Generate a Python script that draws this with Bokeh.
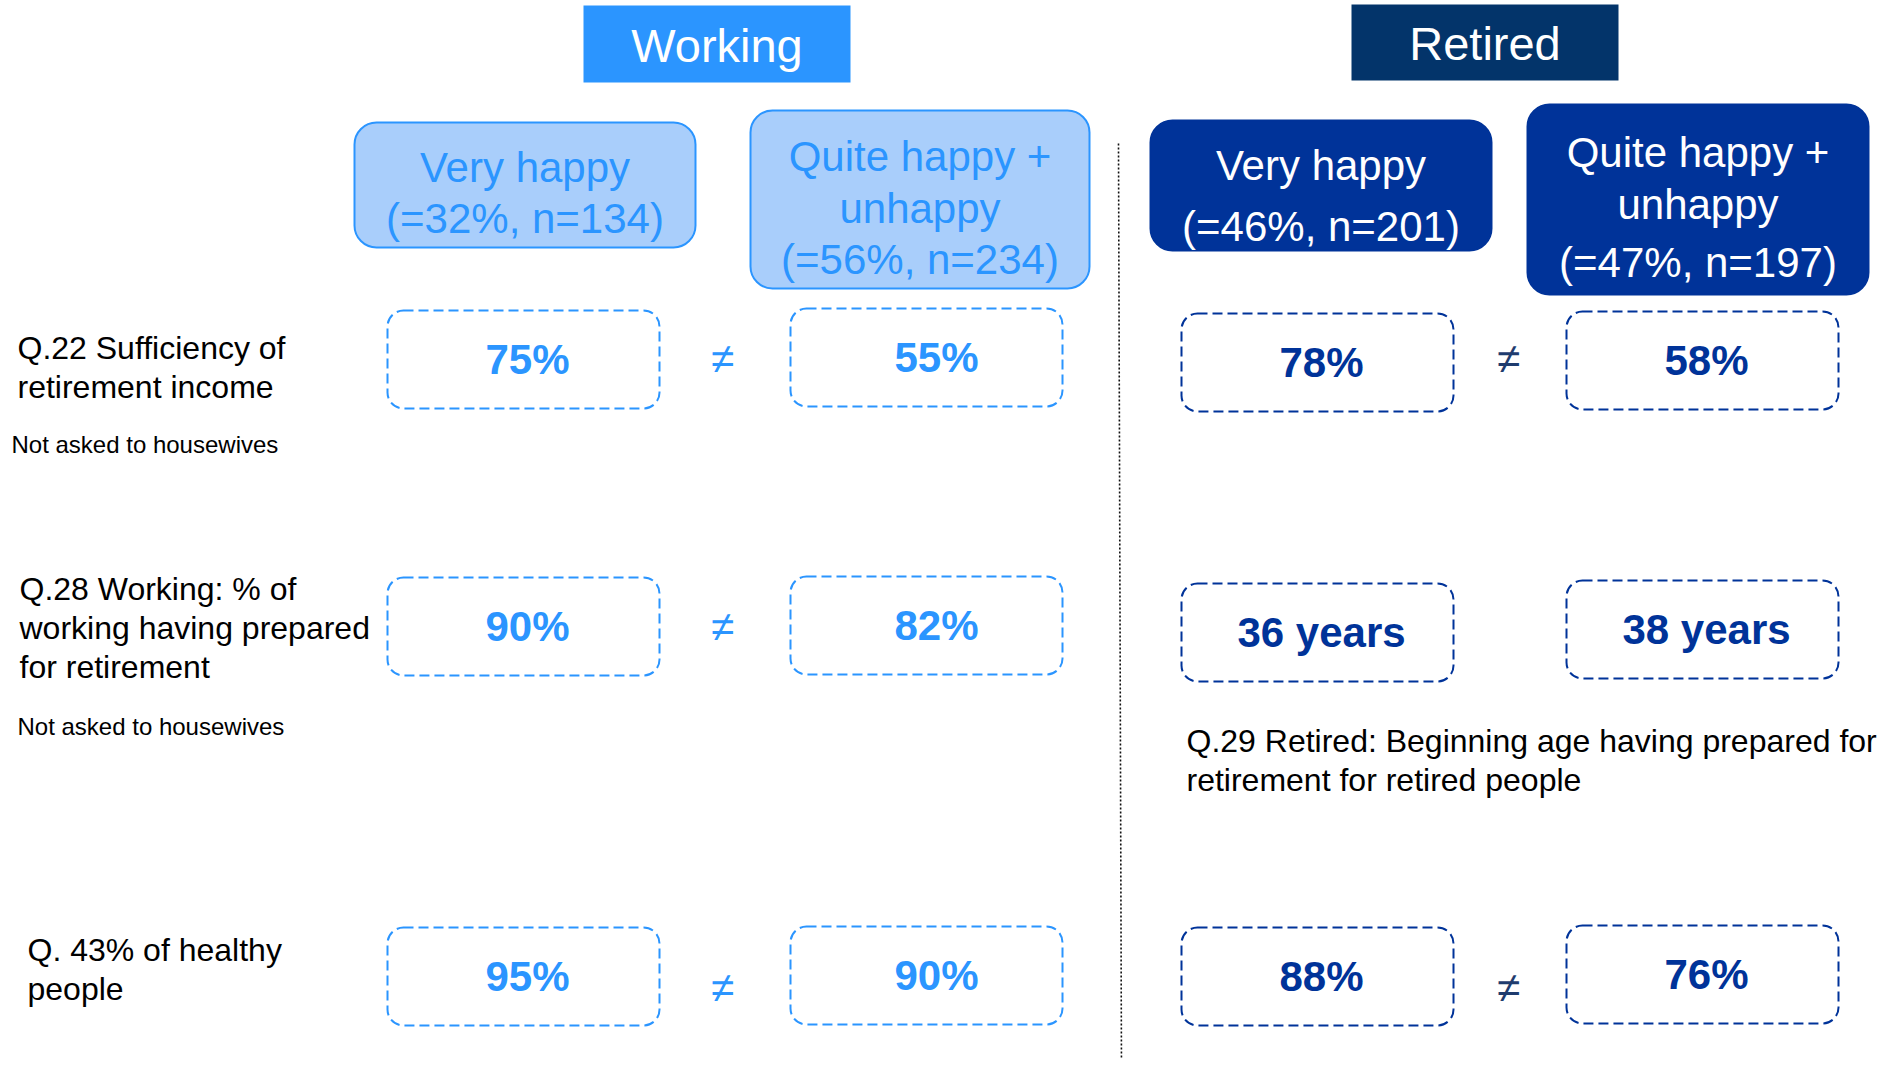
from bokeh.plotting import figure
from bokeh.models import Range1d
from bokeh.core.properties import value
from bokeh.embed import file_html
from bokeh.resources import INLINE

# ---------------- data ----------------
groups = ["Working", "Retired"]
segments = ["Very happy", "Quite happy + unhappy"]
segment_share = [32, 56, 46, 47]          # % of each group
segment_n = [134, 234, 201, 197]          # sample sizes

question_labels = [
    ["Q.22 Sufficiency of", "retirement income"],
    ["Q.28 Working: % of", "working having prepared", "for retirement"],
    ["Q. 43% of healthy", "people"],
]
notes = ["Not asked to housewives", "Not asked to housewives", ""]
retired_q29 = ["Q.29 Retired: Beginning age having prepared for",
               "retirement for retired people"]

working_values = [[75, 55], [90, 82], [95, 90]]     # %
retired_values = [[78, 58], [36, 38], [88, 76]]     # % / years (row 2)
retired_units = ["%", " years", "%"]
working_diff = [True, True, True]
retired_diff = [True, False, True]

# ---------------- style / layout ----------------
FONT = value("Liberation Sans")
C_WORK = "#2B95FF"
C_WORK_FILL = "#A9CEFB"
C_RET_HDR = "#03346A"
C_RET = "#003399"
C_NEQ_R = "#1F3C6E"

W, H = 1880, 1059
p = figure(width=W, height=H, output_backend="svg", toolbar_location=None,
           x_range=Range1d(0, W), y_range=Range1d(H, 0),
           min_border=0, tools="")
p.axis.visible = False
p.grid.visible = False
p.outline_line_color = None
p.background_fill_color = "white"
p.border_fill_color = "white"

# group title boxes
title_l = [583, 1351]
title_r = [850, 1618]
title_t = [5, 4]
title_b = [82, 80]
p.quad(left=title_l, right=title_r, top=title_t, bottom=title_b,
       fill_color=[C_WORK, C_RET_HDR], line_color=None)
p.text(x=[(a + b) / 2 for a, b in zip(title_l, title_r)],
       y=[(a + b) / 2 + 1 for a, b in zip(title_t, title_b)],
       text=groups, text_color="white", text_font=FONT,
       text_font_size="47px", text_align="center", text_baseline="middle")

# segment header boxes
hdr_l = [354, 750, 1150, 1527]
hdr_r = [695, 1089, 1491, 1868]
hdr_t = [122, 110, 120, 104]
hdr_b = [247, 288, 250, 294]
hdr_line_y = [[167, 218], [156, 208, 259], [165, 226], [152, 204, 262]]
hdr_fill = [C_WORK_FILL, C_WORK_FILL, C_RET, C_RET]
hdr_line = [C_WORK, C_WORK, C_RET, C_RET]
hdr_txt = [C_WORK, C_WORK, "white", "white"]
p.quad(left=hdr_l, right=hdr_r, top=hdr_t, bottom=hdr_b,
       fill_color=hdr_fill, line_color=hdr_line, line_width=2,
       border_radius=22)

hx, hy, ht, hc = [], [], [], []
for i in range(4):
    seg = segments[i % 2]
    if seg == "Very happy":
        lines = [seg]
    else:
        lines = ["Quite happy +", "unhappy"]
    lines = lines + [f"(={segment_share[i]}%, n={segment_n[i]})"]
    cx = (hdr_l[i] + hdr_r[i]) / 2
    for k, ln in enumerate(lines):
        hx.append(cx)
        hy.append(hdr_line_y[i][k])
        ht.append(ln)
        hc.append(hdr_txt[i])
p.text(x=hx, y=hy, text=ht, text_color=hc, text_font=FONT,
       text_font_size="42px", text_align="center", text_baseline="middle")

# vertical dotted separator
p.line(x=[1118, 1121], y=[143, 1075], line_color="#111111", line_width=1.6,
       line_dash="2 2")

# dashed value boxes
col_l = [387, 790, 1181, 1566]
col_dx = [4, 10, 4, 4]
col_w = 272
row_tops = [[310, 308, 313, 311], [577, 576, 583, 580], [927, 926, 927, 925]]
box_h = 98
bl, br, bt, bb, bc = [], [], [], [], []
vx, vy, vt, vc = [], [], [], []
for r in range(3):
    vals = [f"{working_values[r][0]}%", f"{working_values[r][1]}%",
            f"{retired_values[r][0]}{retired_units[r]}",
            f"{retired_values[r][1]}{retired_units[r]}"]
    for c in range(4):
        t = row_tops[r][c]
        bl.append(col_l[c]); br.append(col_l[c] + col_w)
        bt.append(t); bb.append(t + box_h)
        bc.append(C_WORK if c < 2 else C_RET)
        vx.append(col_l[c] + col_w / 2 + col_dx[c])
        vy.append(t + box_h / 2)
        vt.append(vals[c])
        vc.append(C_WORK if c < 2 else C_RET)
p.quad(left=bl, right=br, top=bt, bottom=bb, fill_color=None,
       line_color=bc, line_width=2, line_dash="10 5", border_radius=16)
p.text(x=vx, y=vy, text=vt, text_color=vc, text_font=FONT,
       text_font_size="42px", text_font_style="bold",
       text_align="center", text_baseline="middle")

# not-equal signs
neq_y = [358, 626, 987]
nx, ny, nc = [], [], []
for r in range(3):
    if working_diff[r]:
        nx.append(722); ny.append(neq_y[r]); nc.append(C_WORK)
    if retired_diff[r]:
        nx.append(1508); ny.append(neq_y[r]); nc.append(C_NEQ_R)
p.text(x=nx, y=ny, text=["\u2260"] * len(nx), text_color=nc, text_font=FONT,
       text_font_size="42px", text_align="center", text_baseline="middle")

# question labels
lab_x = [17, 19, 27]
lab_y0 = [347, 588, 949]
lx, ly, lt = [], [], []
for r in range(3):
    for k, ln in enumerate(question_labels[r]):
        lx.append(lab_x[r]); ly.append(lab_y0[r] + k * 39); lt.append(ln)
for k, ln in enumerate(retired_q29):
    lx.append(1186); ly.append(740 + k * 39); lt.append(ln)
p.text(x=lx, y=ly, text=lt, text_color="black", text_font=FONT,
       text_font_size="32px", text_align="left", text_baseline="middle")

note_x = [11, 17, 17]
note_y = [444, 726, 0]
nts = [(note_x[i], note_y[i], notes[i]) for i in range(3) if notes[i]]
p.text(x=[a for a, _, _ in nts], y=[b for _, b, _ in nts],
       text=[c for _, _, c in nts], text_color="black", text_font=FONT,
       text_font_size="24px", text_align="left", text_baseline="middle")

open("out.html", "w").write(file_html(p, INLINE))
